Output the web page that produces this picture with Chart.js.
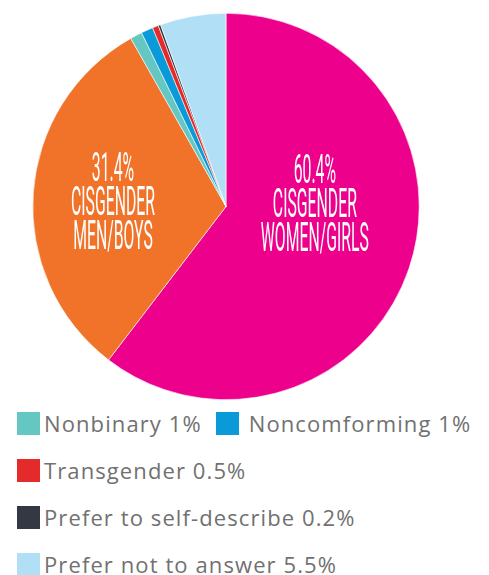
<!DOCTYPE html>
<html>
<head>
<meta charset="utf-8">
<script src="https://cdn.jsdelivr.net/npm/chart.js@4.4.0/dist/chart.umd.min.js"></script>
<style>
  html, body { margin: 0; padding: 0; background: #fff; }
  body { width: 489px; height: 575px; position: relative; overflow: hidden; }
  #wrap { position: absolute; left: 0; top: 0; width: 489px; height: 400px; }
  #legend { position: absolute; left: 17px; top: 408px; font-family: "Open Sans", sans-serif; font-size: 22px; letter-spacing: 1.1px; color: #717171; }
  .row { display: flex; height: 47px; align-items: flex-start; white-space: nowrap; }
  .item { display: flex; align-items: center; margin-right: 14px; }
  .box { width: 23px; height: 23px; margin-right: 4px; }
  .item + .item .box { margin-right: 10px; }
</style>
</head>
<body>
<div id="wrap"><canvas id="genderChart"></canvas></div>
<div id="legend"></div>
<script>
const categories = ['Cisgender Women/Girls', 'Cisgender Men/Boys', 'Nonbinary', 'Noncomforming', 'Transgender', 'Prefer to self-describe', 'Prefer not to answer'];
const shares = [60.4, 31.4, 1, 1, 0.5, 0.2, 5.5];
const colors = ['#EC008C', '#F1732A', '#65C7C2', '#0A9AD7', '#E42A2A', '#333842', '#B1E0F6'];
const pieLabels = [['60.4%', 'CISGENDER', 'WOMEN/GIRLS'], ['31.4%', 'CISGENDER', 'MEN/BOYS']];
const legendRows = [[2, 3], [4], [5], [6]];

// labels inside the two big slices, drawn in a squeezed font
const sliceText = {
    id: 'sliceText',
    afterDatasetsDraw(chart) {
        const ctx = chart.ctx;
        const arc = chart.getDatasetMeta(0).data[0];
        const r = arc.outerRadius;
        // x offset, first baseline offset (fractions of radius)
        const spots = [[0.46, -0.12], [-0.585, -0.13]];
        ctx.save();
        ctx.fillStyle = '#fff';
        ctx.font = '400 41px Roboto';
        ctx.textAlign = 'center';
        ctx.textBaseline = 'alphabetic';
        const squeeze = 84 / ctx.measureText('CISGENDER').width;
        pieLabels.forEach((lines, i) => {
            const cx = arc.x + spots[i][0] * r;
            const cy = arc.y + spots[i][1] * r;
            lines.forEach((t, j) => {
                ctx.save();
                ctx.translate(cx, cy + j * 34);
                ctx.scale(squeeze, 1);
                ctx.fillText(t, 0, 0);
                ctx.restore();
            });
        });
        ctx.restore();
    }
};

const chart = new Chart(document.getElementById('genderChart'), {
    type: 'pie',
    data: {
        labels: categories,
        datasets: [{
            data: shares,
            backgroundColor: colors,
            borderColor: '#fff',
            borderWidth: 0.6
        }]
    },
    options: {
        responsive: true,
        maintainAspectRatio: false,
        animation: false,
        layout: { padding: { top: 13, bottom: 0, left: 0, right: 37 } },
        plugins: {
            legend: { display: false },
            tooltip: { enabled: false }
        }
    },
    plugins: [sliceText]
});

const legend = document.getElementById('legend');
legendRows.forEach(row => {
    const div = document.createElement('div');
    div.className = 'row';
    row.forEach(i => {
        const item = document.createElement('div');
        item.className = 'item';
        item.innerHTML = '<span class="box" style="background:' + colors[i] + '"></span>' +
            '<span>' + categories[i] + ' ' + shares[i] + '%</span>';
        div.appendChild(item);
    });
    legend.appendChild(div);
});
</script>
</body>
</html>
